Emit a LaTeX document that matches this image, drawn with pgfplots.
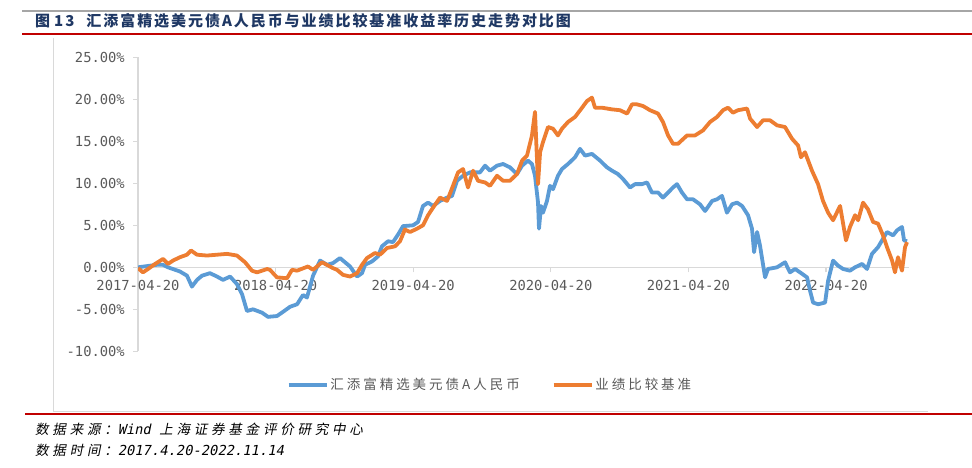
\documentclass[border=0pt]{standalone}
\usepackage{fontspec}
\usepackage{pgfplots}
\usepackage{pgfplotstable}
\pgfplotsset{compat=1.18}
\setmainfont{Noto Sans CJK SC}
\newfontfamily\monofont{DejaVu Sans Mono}
\newfontfamily\legfont{Noto Sans CJK SC}[LetterSpace=22]
\newfontfamily\titlefont{Noto Sans CJK SC}[LetterSpace=13]
\newfontfamily\footcjk{Noto Sans CJK SC}[FakeSlant=0.2, LetterSpace=28]
\newfontfamily\footmono{DejaVu Sans Mono}[FakeSlant=0.2]
\definecolor{fundblue}{HTML}{5B9BD5}
\definecolor{benchorange}{HTML}{ED7D31}
\definecolor{ticktext}{HTML}{595959}
\definecolor{axisgray}{HTML}{D9D9D9}
\definecolor{titleblue}{HTML}{1F3864}
\definecolor{redline}{HTML}{C00000}

% x: years since 2017-04-20, y: cumulative return in percent
\pgfplotstableread{
t v
0 0
0.138 0.3
0.182 0.3
0.218 0
0.305 -0.5
0.356 -1.0
0.392 -2.3
0.429 -1.5
0.465 -1.0
0.523 -0.7
0.574 -1.1
0.618 -1.5
0.669 -1.1
0.719 -2.0
0.756 -3.2
0.792 -5.2
0.836 -5.0
0.901 -5.4
0.945 -5.9
1.010 -5.8
1.054 -5.3
1.105 -4.7
1.156 -4.4
1.199 -3.3
1.228 -3.6
1.272 -1.0
1.323 0.8
1.374 0.3
1.417 0.5
1.468 1.1
1.541 0.1
1.592 -1.1
1.628 -0.7
1.650 0.3
1.701 0.7
1.744 1.3
1.773 2.5
1.817 3.1
1.853 3.0
1.890 3.9
1.926 4.9
1.999 5.0
2.035 5.4
2.071 7.3
2.108 7.7
2.144 7.3
2.195 7.9
2.246 8.3
2.282 8.5
2.318 10.3
2.362 10.9
2.413 11.3
2.485 11.3
2.522 12.1
2.558 11.5
2.609 12.1
2.653 12.3
2.703 11.9
2.754 11.1
2.791 12.1
2.834 12.7
2.863 12.3
2.885 10.9
2.907 7.7
2.914 4.6
2.929 7.3
2.943 6.5
2.972 7.9
2.994 9.7
3.016 9.3
3.052 10.9
3.081 11.7
3.125 12.3
3.176 13.1
3.212 14.1
3.249 13.3
3.299 13.5
3.358 12.7
3.408 11.9
3.445 11.5
3.488 11.1
3.525 10.5
3.576 9.5
3.612 9.9
3.663 9.9
3.699 10.1
3.735 8.9
3.779 8.9
3.815 8.3
3.852 8.9
3.888 9.5
3.917 9.9
3.953 8.9
3.990 8.1
4.033 8.1
4.084 7.5
4.121 6.7
4.172 7.9
4.208 8.1
4.244 8.5
4.280 6.5
4.317 7.5
4.353 7.7
4.390 7.3
4.433 6.2
4.462 4.6
4.477 1.8
4.499 4.2
4.520 2.6
4.557 -1.2
4.578 -0.2
4.644 0
4.702 0.6
4.738 -0.6
4.775 -0.2
4.811 -0.6
4.862 -1.2
4.884 -2.8
4.906 -4.2
4.942 -4.4
4.993 -4.2
5.015 -1.6
5.051 0.8
5.087 0.2
5.124 -0.2
5.174 -0.4
5.211 0
5.262 0.4
5.298 -0.2
5.334 1.6
5.378 2.4
5.414 3.4
5.443 4.2
5.487 3.8
5.516 4.4
5.552 4.8
5.567 3.2
5.589 3.1
}\fundtable

\pgfplotstableread{
t v
0 -0.1
0.036 -0.6
0.073 -0.2
0.124 0.4
0.182 1.0
0.218 0.4
0.254 0.8
0.305 1.2
0.356 1.5
0.385 2.0
0.429 1.5
0.501 1.4
0.574 1.5
0.647 1.6
0.719 1.4
0.778 0.6
0.828 -0.4
0.865 -0.6
0.938 -0.2
0.959 -0.3
1.010 -1.2
1.083 -1.3
1.119 -0.3
1.156 -0.4
1.235 0.1
1.272 -0.3
1.337 0.6
1.417 -0.1
1.446 -0.3
1.490 -0.9
1.541 -1.1
1.592 -0.7
1.628 0.3
1.664 1.1
1.722 1.7
1.759 1.5
1.810 2.3
1.868 2.5
1.904 3.1
1.940 4.5
1.977 4.2
2.028 4.6
2.071 5.0
2.108 6.2
2.144 7.1
2.195 8.3
2.246 7.9
2.289 9.7
2.326 11.3
2.362 11.7
2.398 9.5
2.435 11.5
2.471 10.3
2.522 10.1
2.558 9.7
2.609 10.9
2.653 10.3
2.703 10.3
2.754 11.1
2.791 12.7
2.827 13.3
2.863 15.7
2.885 18.5
2.907 9.9
2.922 13.7
2.943 14.9
2.980 16.7
3.016 16.5
3.052 15.7
3.081 16.5
3.125 17.3
3.176 17.9
3.227 19.0
3.263 19.8
3.299 20.2
3.321 19.0
3.372 19.0
3.445 18.8
3.503 18.7
3.554 18.3
3.590 19.4
3.626 19.4
3.670 19.2
3.721 18.7
3.779 18.3
3.815 17.3
3.852 15.7
3.888 14.7
3.924 14.7
3.990 15.7
4.048 15.7
4.106 16.3
4.157 17.3
4.208 17.9
4.251 18.7
4.288 19.0
4.324 18.4
4.360 18.7
4.426 18.9
4.448 17.7
4.499 16.7
4.542 17.5
4.593 17.5
4.644 16.9
4.702 16.7
4.753 15.3
4.797 14.5
4.818 13.1
4.847 13.7
4.898 11.5
4.942 9.9
4.978 7.9
5.015 6.5
5.051 5.6
5.102 7.3
5.145 3.2
5.174 4.8
5.211 6.2
5.233 5.6
5.269 7.7
5.305 6.9
5.342 5.4
5.378 5.2
5.414 3.8
5.443 2.4
5.480 0.8
5.501 -0.6
5.523 1.2
5.552 -0.4
5.574 2.4
5.589 3.0
}\benchtable

\begin{document}
\begin{tikzpicture}[x=1pt,y=1pt]
\useasboundingbox (0,0) rectangle (972,467);
% header
\draw[gray!70, line width=2pt] (22,456) -- (972,456);
\node[anchor=west, inner sep=0pt, text=titleblue, font=\titlefont\bfseries\fontsize{15}{18}\selectfont] at (35,446) {图\hspace{4pt}13\hspace{12pt}汇添富精选美元债A人民币与业绩比较基准收益率历史走势对比图};
\draw[redline, line width=2pt] (22,433) -- (972,433);
% chart frame
\draw[axisgray, line width=1pt] (53,429) -- (53,56) -- (928,56);
% footer
\draw[redline, line width=2pt] (25,53) -- (972,53);
\node[anchor=west, inner sep=0pt] at (35,38) {{\footcjk\fontsize{13.5}{16}\selectfont 数据来源：}{\footmono\fontsize{13.8}{16}\selectfont Wind }{\footcjk\fontsize{13.5}{16}\selectfont 上海证券基金评价研究中心}};
\node[anchor=west, inner sep=0pt] at (35,17) {{\footcjk\fontsize{13.5}{16}\selectfont 数据时间：}{\footmono\fontsize{13.8}{16}\selectfont 2017.4.20-2022.11.14}};
\begin{axis}[
  at={(138pt,115.7pt)}, anchor=south west,
  scale only axis, width=770.6pt, height=294pt,
  xmin=0, xmax=5.6, ymin=-10, ymax=25,
  axis x line=middle, axis y line=left,
  hide obscured x ticks=false, hide obscured y ticks=false,
  axis line style={axisgray, line width=1.2pt, -},
  xtick={0,1,2,3,4,5},
  xticklabels={2017-04-20,2018-04-20,2019-04-20,2020-04-20,2021-04-20,2022-04-20},
  ytick={-10,-5,0,5,10,15,20,25},
  yticklabels={-10.00\%,-5.00\%,0.00\%,5.00\%,10.00\%,15.00\%,20.00\%,25.00\%},
  tick style={axisgray, line width=1.2pt},
  major tick length=5pt,
  tick align=outside,
  ticklabel style={font=\monofont\fontsize{13.8}{16}\selectfont, text=ticktext},
  xticklabel style={anchor=north, inner sep=0pt, yshift=-8pt},
  yticklabel style={anchor=east, inner sep=0pt, xshift=-8pt},
  legend style={at={(0.4568,-0.1146)}, anchor=center, draw=none, fill=none,
    legend columns=2, font=\legfont\fontsize{13.5}{16}\selectfont, text=ticktext,
    /tikz/every even column/.append style={column sep=30pt},
    inner sep=0pt, nodes={inner sep=2pt}},
  legend image code/.code={\draw[#1, line width=3.6pt] (0pt,0pt) -- (38pt,0pt);},
]
\addplot[fundblue, line width=3.8pt, line join=round, no markers] table[x=t,y=v]{\fundtable};
\addlegendentry{汇添富精选美元债A人民币}
\addplot[benchorange, line width=3.8pt, line join=round, no markers] table[x=t,y=v]{\benchtable};
\addlegendentry{业绩比较基准}
\end{axis}
\end{tikzpicture}
\end{document}
